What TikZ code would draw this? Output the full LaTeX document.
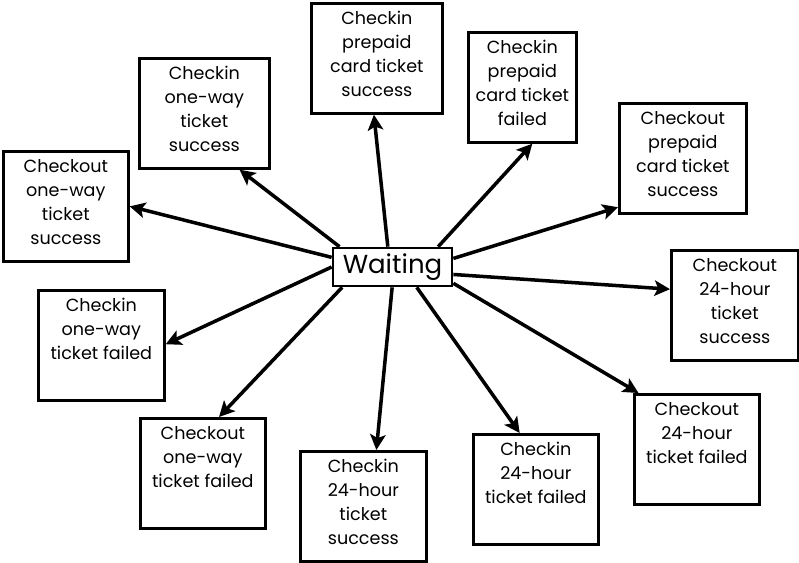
\documentclass[tikz,border=0pt]{standalone}
\usepackage{fontspec}
\setmainfont{Poppins}
\usetikzlibrary{arrows.meta}

\newcommand{\msgtext}[1]{\vbox to 2.75cm{\vspace*{3pt}\hbox{\begin{tabular}{@{}c@{}}#1\end{tabular}}\vfil}}

\tikzset{
  state/.style={draw, line width=1.9pt, inner sep=0pt, anchor=north west,
    minimum width=3.15cm, minimum height=2.75cm, font=\fontsize{12.5}{17}\selectfont},
  >={Stealth[length=11pt,width=11pt,inset=2.5pt]}
}

\begin{document}
\begin{tikzpicture}[x=0.025cm,y=-0.025cm]
      \useasboundingbox (0,0) rectangle (799,563);
      \node[draw, line width=1.9pt, inner sep=0pt, minimum width=2.975cm, minimum height=0.95cm,
        font=\fontsize{18.5}{20}\selectfont] (wait) at (392.5,267) {Waiting};
      % top row
      \node[state, minimum width=3.275cm] (ci-pre-s) at (310,2) {\msgtext{Checkin\\prepaid\\card ticket\\success}};
      \node[state, minimum width=2.7cm] (ci-pre-f) at (467,31) {\msgtext{Checkin\\prepaid\\card ticket\\failed}};
      \node[state, minimum width=3.175cm] (co-pre-s) at (618,102) {\msgtext{Checkout\\prepaid\\card ticket\\success}};
      \node[state, minimum width=3.175cm] (co-24-s) at (670,249) {\msgtext{Checkout\\24-hour\\ticket\\success}};
      \node[state, minimum width=3.125cm] (co-24-f) at (633,393) {\msgtext{Checkout\\24-hour\\ticket failed}};
      % bottom row
      \node[state, minimum width=3.125cm] (ci-24-f) at (472,433) {\msgtext{Checkin\\24-hour\\ticket failed}};
      \node[state] (ci-24-s) at (299,450) {\msgtext{Checkin\\24-hour\\ticket\\success}};
      \node[state, minimum width=3.125cm] (co-ow-f) at (139,417) {\msgtext{Checkout\\one-way\\ticket failed}};
      \node[state] (ci-ow-f) at (37,289) {\msgtext{Checkin\\one-way\\ticket failed}};
      \node[state, minimum width=3.125cm] (co-ow-s) at (2,150) {\msgtext{Checkout\\one-way\\ticket\\success}};
      \node[state, minimum width=3.25cm] (ci-ow-s) at (138,57) {\msgtext{Checkin\\one-way\\ticket\\success}};
      \foreach \b/\s/\e in {ci-pre-s/103/-93.6, ci-pre-f/24/-80.8, co-pre-s/8.6/-143, co-24-s/-7.7/166.8,
          co-24-f/-15/136, ci-24-f/-40/106.7, ci-24-s/-91.5/77.9, co-ow-f/-158/74.4,
          ci-ow-f/180/1, co-ow-s/171.4/0, ci-ow-s/159/-58.5}
        \draw[->, line width=2.5pt] (wait.\s) -- (\b.\e);
\end{tikzpicture}
\end{document}
